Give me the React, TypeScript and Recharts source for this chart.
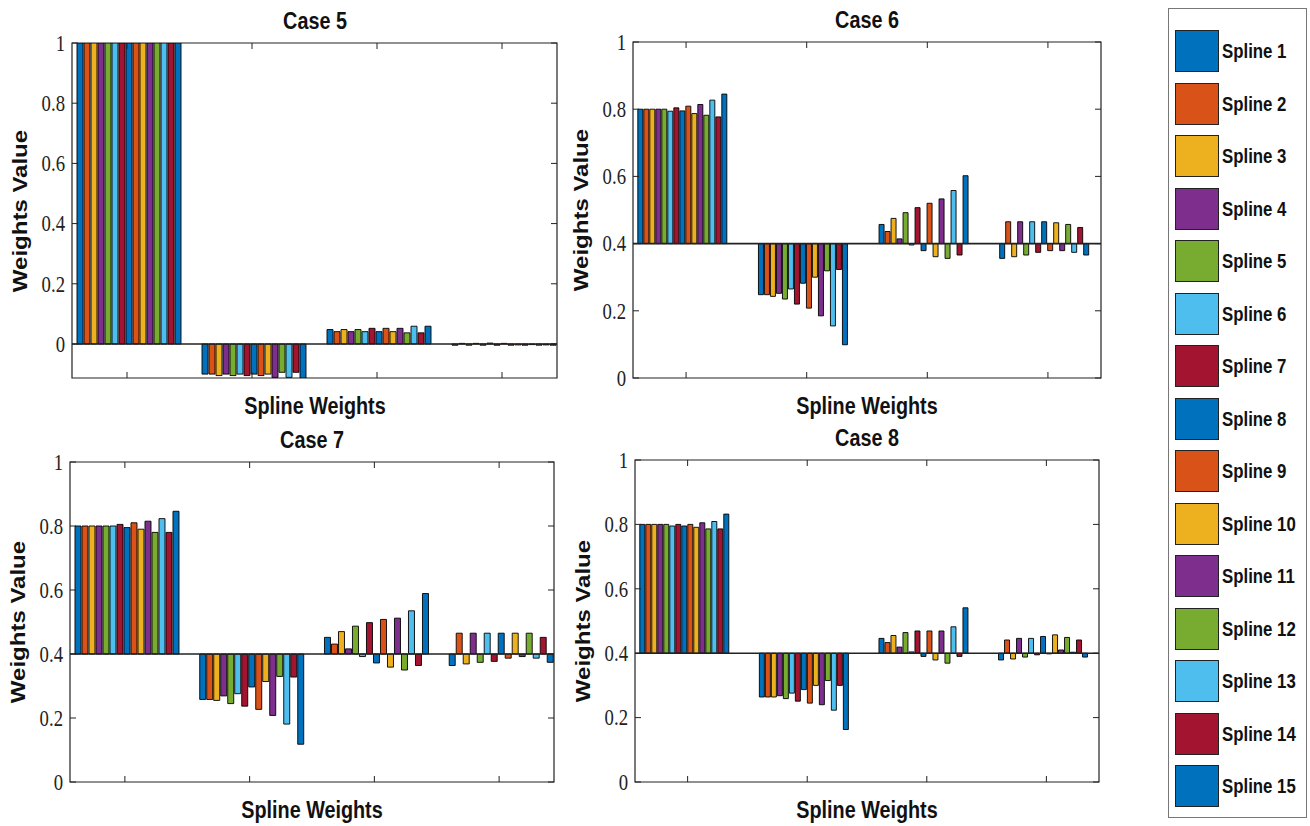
import React from 'react';
import { BarChart, Bar, XAxis, YAxis, ReferenceLine, ReferenceArea } from 'recharts';

// MATLAB default colour order, repeated for 15 splines
const COLORS = [
  '#0072BD', '#D95319', '#EDB120', '#7E2F8E', '#77AC30', '#4DBEEE', '#A2142F',
  '#0072BD', '#D95319', '#EDB120', '#7E2F8E', '#77AC30', '#4DBEEE', '#A2142F',
  '#0072BD',
];

const SPLINES = [
  'Spline 1', 'Spline 2', 'Spline 3', 'Spline 4', 'Spline 5', 'Spline 6', 'Spline 7', 'Spline 8',
  'Spline 9', 'Spline 10', 'Spline 11', 'Spline 12', 'Spline 13', 'Spline 14', 'Spline 15',
];

const GROUPS = [1, 2, 3, 4];
const Y_TICKS = [0, 0.2, 0.4, 0.6, 0.8, 1];

// Case 5 (baseline 0)
const CASE5_W1 = [1, 1, 1, 1, 1, 1, 1, 1, 1, 1, 1, 1, 1, 1, 1];
const CASE5_W2 = [-0.1, -0.1, -0.105, -0.1, -0.105, -0.1, -0.105, -0.1, -0.105, -0.1, -0.111, -0.094, -0.111, -0.094, -0.113];
const CASE5_W3 = [0.048, 0.041, 0.048, 0.041, 0.048, 0.041, 0.052, 0.041, 0.052, 0.041, 0.052, 0.037, 0.059, 0.037, 0.059];
const CASE5_W4 = [-0.004, 0.002, -0.004, 0.002, -0.004, 0.003, -0.004, 0.002, -0.004, -0.003, -0.004, -0.002, -0.004, -0.003, -0.004];

// Case 6 (baseline 0.4)
const CASE6_W1 = [0.8, 0.8, 0.8, 0.8, 0.8, 0.794, 0.804, 0.795, 0.809, 0.787, 0.814, 0.782, 0.827, 0.777, 0.845];
const CASE6_W2 = [0.248, 0.248, 0.243, 0.252, 0.235, 0.265, 0.22, 0.282, 0.208, 0.3, 0.185, 0.319, 0.155, 0.323, 0.099];
const CASE6_W3 = [0.457, 0.436, 0.475, 0.414, 0.492, 0.396, 0.507, 0.379, 0.52, 0.361, 0.533, 0.356, 0.558, 0.366, 0.602];
const CASE6_W4 = [0.356, 0.465, 0.361, 0.465, 0.366, 0.465, 0.374, 0.465, 0.379, 0.462, 0.379, 0.457, 0.374, 0.448, 0.366];

// Case 7 (baseline 0.4)
const CASE7_W1 = [0.8, 0.8, 0.8, 0.8, 0.8, 0.8, 0.805, 0.795, 0.81, 0.79, 0.815, 0.78, 0.823, 0.78, 0.846];
const CASE7_W2 = [0.258, 0.258, 0.255, 0.269, 0.245, 0.276, 0.237, 0.297, 0.227, 0.314, 0.208, 0.33, 0.181, 0.328, 0.118];
const CASE7_W3 = [0.452, 0.431, 0.47, 0.416, 0.487, 0.392, 0.498, 0.372, 0.508, 0.359, 0.512, 0.35, 0.535, 0.364, 0.589];
const CASE7_W4 = [0.364, 0.465, 0.369, 0.465, 0.374, 0.465, 0.377, 0.465, 0.387, 0.465, 0.392, 0.465, 0.387, 0.452, 0.374];

// Case 8 (baseline 0.4)
const CASE8_W1 = [0.8, 0.8, 0.8, 0.8, 0.8, 0.795, 0.8, 0.795, 0.8, 0.791, 0.805, 0.786, 0.809, 0.786, 0.832];
const CASE8_W2 = [0.264, 0.264, 0.264, 0.268, 0.259, 0.276, 0.251, 0.287, 0.245, 0.3, 0.24, 0.315, 0.223, 0.3, 0.163];
const CASE8_W3 = [0.446, 0.433, 0.455, 0.419, 0.464, 0.404, 0.469, 0.39, 0.469, 0.379, 0.469, 0.369, 0.482, 0.39, 0.541];
const CASE8_W4 = [0.379, 0.441, 0.382, 0.446, 0.388, 0.446, 0.395, 0.452, 0.398, 0.457, 0.41, 0.449, 0.403, 0.441, 0.388];

const SANS = '"Liberation Sans", Arial, sans-serif';
const SERIF = '"Liberation Serif", "Times New Roman", serif';

const CW = 1160;
const CH = 826;

type Plot = { left: number; top: number; right: number; bottom: number };

function buildRows(groups: number[][], base: number) {
  return GROUPS.map((g, gi) => {
    const row: Record<string, any> = { g };
    SPLINES.forEach((_, si) => {
      row['s' + si] = [base, groups[gi][si]];
    });
    return row;
  });
}

function Label({ x, y, text, size = 23, rotate = false }: { x: number; y: number; text: string; size?: number; rotate?: boolean }) {
  return (
    <div
      style={{
        position: 'absolute',
        left: x,
        top: y,
        transform: rotate
          ? 'translate(-50%, -50%) rotate(-90deg) scale(1, 0.86)'
          : 'translate(-50%, -50%) scale(0.86, 1)',
        fontFamily: SANS,
        fontWeight: 700,
        fontSize: size,
        whiteSpace: 'nowrap',
        color: '#111',
      }}
    >
      {text}
    </div>
  );
}

function Panel({ title, plot, groups, base, domain }: { title: string; plot: Plot; groups: number[][]; base: number; domain: [number, number] }) {
  const rows = buildRows(groups, base);
  const cx = (plot.left + plot.right) / 2;

  const yTick = (props: any) => {
    const { y, payload } = props;
    return (
      <g>
        <line x1={plot.left} x2={plot.left + 6} y1={y} y2={y} stroke="#222" />
        <line x1={plot.right - 6} x2={plot.right} y1={y} y2={y} stroke="#222" />
        <text
          x={0}
          y={0}
          transform={`translate(${plot.left - 7},${y}) scale(0.78,1)`}
          textAnchor="end"
          dominantBaseline="central"
          fontFamily={SERIF}
          fontSize={24}
          fill="#222"
        >
          {String(payload.value)}
        </text>
      </g>
    );
  };

  const xTick = (props: any) => {
    const { x } = props;
    return (
      <g>
        <line x1={x} x2={x} y1={plot.bottom - 6} y2={plot.bottom} stroke="#222" />
        <line x1={x} x2={x} y1={plot.top} y2={plot.top + 6} stroke="#222" />
      </g>
    );
  };

  return (
    <>
      <div style={{ position: 'absolute', left: 0, top: 0 }}>
        <BarChart
          width={CW}
          height={CH}
          data={rows}
          margin={{ top: plot.top, left: plot.left - 40, right: CW - plot.right, bottom: CH - plot.bottom - 10 }}
          barCategoryGap="10%"
          barGap={1}
        >
          <XAxis
            dataKey="g"
            type="number"
            domain={[0.56, 4.44]}
            ticks={GROUPS}
            allowDataOverflow
            height={10}
            axisLine={false}
            tickLine={false}
            tick={xTick}
          />
          <YAxis
            type="number"
            domain={domain}
            ticks={Y_TICKS}
            allowDataOverflow
            width={40}
            axisLine={false}
            tickLine={false}
            tick={yTick}
          />
          {SPLINES.map((name, i) => (
            <Bar
              key={name}
              dataKey={'s' + i}
              name={name}
              fill={COLORS[i]}
              stroke="#000"
              strokeWidth={0.9}
              isAnimationActive={false}
            />
          ))}
          <ReferenceLine y={base} stroke="#222" strokeWidth={1.6} />
          <ReferenceArea x1={0.56} x2={4.44} y1={domain[0]} y2={domain[1]} fill="none" stroke="#222" strokeWidth={1.2} />
        </BarChart>
      </div>
      <Label x={cx} y={plot.top - 22} text={title} />
      <Label x={cx} y={plot.bottom + 28} text="Spline Weights" />
      <Label x={plot.left - 52} y={(plot.top + plot.bottom) / 2} text="Weights Value" size={24} rotate />
    </>
  );
}

function SplineLegend() {
  return (
    <div
      style={{
        position: 'absolute',
        left: 1168,
        top: 8,
        width: 139,
        height: 810,
        border: '1px solid #777',
        boxSizing: 'border-box',
        background: '#fff',
      }}
    >
      {SPLINES.map((name, i) => (
        <div key={name} style={{ position: 'absolute', left: 6, top: 21 + i * 52.5, height: 42, display: 'flex', alignItems: 'center' }}>
          <div style={{ width: 44, height: 42, boxSizing: 'border-box', background: COLORS[i], border: '1px solid #222' }} />
          <div
            style={{
              marginLeft: 3,
              fontFamily: SANS,
              fontWeight: 700,
              fontSize: 21,
              color: '#111',
              transform: 'scale(0.8, 1)',
              transformOrigin: 'left center',
              whiteSpace: 'nowrap',
            }}
          >
            {name}
          </div>
        </div>
      ))}
    </div>
  );
}

export default function App() {
  return (
    <div style={{ position: 'absolute', left: 0, top: 0, width: 1310, height: 826, background: '#fff', overflow: 'hidden' }}>
      <Panel
        title="Case 5"
        plot={{ left: 72, top: 43, right: 557, bottom: 378 }}
        groups={[CASE5_W1, CASE5_W2, CASE5_W3, CASE5_W4]}
        base={0}
        domain={[-0.113, 1]}
      />
      <Panel
        title="Case 6"
        plot={{ left: 633, top: 42, right: 1101, bottom: 378 }}
        groups={[CASE6_W1, CASE6_W2, CASE6_W3, CASE6_W4]}
        base={0.4}
        domain={[0, 1]}
      />
      <Panel
        title="Case 7"
        plot={{ left: 70, top: 462, right: 554, bottom: 782 }}
        groups={[CASE7_W1, CASE7_W2, CASE7_W3, CASE7_W4]}
        base={0.4}
        domain={[0, 1]}
      />
      <Panel
        title="Case 8"
        plot={{ left: 635, top: 460, right: 1099, bottom: 782 }}
        groups={[CASE8_W1, CASE8_W2, CASE8_W3, CASE8_W4]}
        base={0.4}
        domain={[0, 1]}
      />
      <SplineLegend />
    </div>
  );
}
